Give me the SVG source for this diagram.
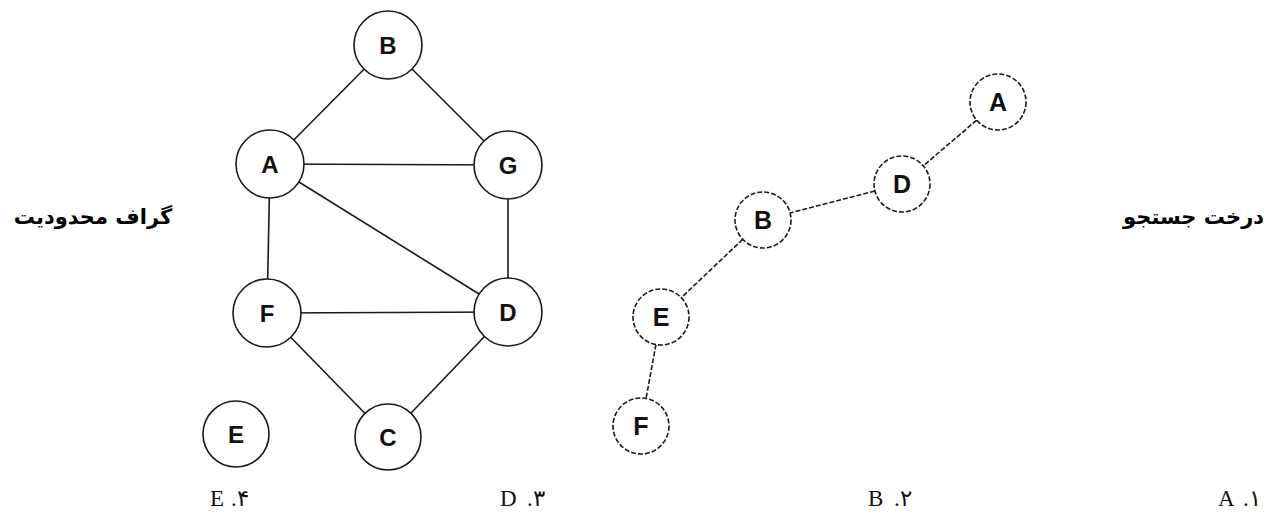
<svg xmlns="http://www.w3.org/2000/svg" width="1273" height="532" viewBox="0 0 1273 532">
  <style>
    .edge { stroke: #1a1a1a; stroke-width: 1.6; fill: none; }
    .tedge { stroke: #1a1a1a; stroke-width: 1.6; fill: none; stroke-dasharray: 5 2; }
    .node { fill: #fff; stroke: #1a1a1a; stroke-width: 1.6; }
    .tnode { fill: #fff; stroke: #1a1a1a; stroke-width: 1.6; stroke-dasharray: 5 2; }
    .lbl { font-family: "Liberation Sans", Arial, sans-serif; font-size: 24px; font-weight: bold; fill: #111; text-anchor: middle; }
    .tlbl { font-family: "Liberation Sans", Arial, sans-serif; font-size: 25px; font-weight: bold; fill: #111; text-anchor: middle; }
    .title { font-family: "DejaVu Sans", "Noto Sans", sans-serif; font-size: 21px; font-weight: bold; fill: #000; }
    .opt { font-family: "Liberation Serif", "DejaVu Serif", serif; font-size: 23px; fill: #111; }
  </style>
  <rect width="1273" height="532" fill="#fff"/>

  <!-- constraint graph edges -->
  <g id="graph-edges">
    <line class="edge" x1="388" y1="45" x2="270" y2="164"/>
    <line class="edge" x1="388" y1="45" x2="508" y2="165"/>
    <line class="edge" x1="270" y1="164" x2="508" y2="165"/>
    <line class="edge" x1="270" y1="164" x2="508" y2="312"/>
    <line class="edge" x1="270" y1="164" x2="267" y2="313"/>
    <line class="edge" x1="508" y1="165" x2="508" y2="312"/>
    <line class="edge" x1="267" y1="313" x2="508" y2="312"/>
    <line class="edge" x1="267" y1="313" x2="388" y2="437"/>
    <line class="edge" x1="508" y1="312" x2="388" y2="437"/>
  </g>

  <!-- search tree edges -->
  <g id="tree-edges">
    <line class="tedge" x1="998" y1="102" x2="902" y2="184"/>
    <line class="tedge" x1="902" y1="184" x2="763" y2="220"/>
    <line class="tedge" x1="763" y1="220" x2="661" y2="317"/>
    <line class="tedge" x1="661" y1="317" x2="641" y2="426"/>
  </g>

  <!-- constraint graph nodes -->
  <g id="g-B"><circle class="node" cx="388" cy="45" r="34"/><text class="lbl" x="388" y="54">B</text></g>
  <g id="g-A"><circle class="node" cx="270" cy="164" r="34"/><text class="lbl" x="270" y="173">A</text></g>
  <g id="g-G"><circle class="node" cx="508" cy="165" r="34"/><text class="lbl" x="508" y="174">G</text></g>
  <g id="g-F"><circle class="node" cx="267" cy="313" r="34"/><text class="lbl" x="267" y="322">F</text></g>
  <g id="g-D"><circle class="node" cx="508" cy="312" r="34"/><text class="lbl" x="508" y="321">D</text></g>
  <g id="g-E"><circle class="node" cx="236" cy="434" r="33"/><text class="lbl" x="236" y="443">E</text></g>
  <g id="g-C"><circle class="node" cx="388" cy="437" r="33"/><text class="lbl" x="388" y="446">C</text></g>

  <!-- search tree nodes -->
  <g id="t-A"><circle class="tnode" cx="998" cy="102" r="28"/><text class="tlbl" x="998" y="111">A</text></g>
  <g id="t-D"><circle class="tnode" cx="902" cy="184" r="28"/><text class="tlbl" x="902" y="193">D</text></g>
  <g id="t-B"><circle class="tnode" cx="763" cy="220" r="28"/><text class="tlbl" x="763" y="229">B</text></g>
  <g id="t-E"><circle class="tnode" cx="661" cy="317" r="28"/><text class="tlbl" x="661" y="326">E</text></g>
  <g id="t-F"><circle class="tnode" cx="641" cy="426" r="28"/><text class="tlbl" x="641" y="435">F</text></g>

  <!-- titles -->
  <g id="titles">
    <text class="title" x="93" y="224" text-anchor="middle">گراف محدودیت</text>
    <text class="title" x="1264" y="224" direction="rtl" text-anchor="start">درخت جستجو</text>
  </g>

  <!-- answer options: letter, then the Persian ordinal -->
  <g id="options">
    <text class="opt" x="1218" y="506">A</text><text class="opt" x="1243" y="506">.۱</text>
    <text class="opt" x="868" y="506">B</text><text class="opt" x="894" y="506">.۲</text>
    <text class="opt" x="500" y="506">D</text><text class="opt" x="527" y="506">.۳</text>
    <text class="opt" x="210" y="506">E</text><text class="opt" x="231" y="506">.۴</text>
  </g>
</svg>
